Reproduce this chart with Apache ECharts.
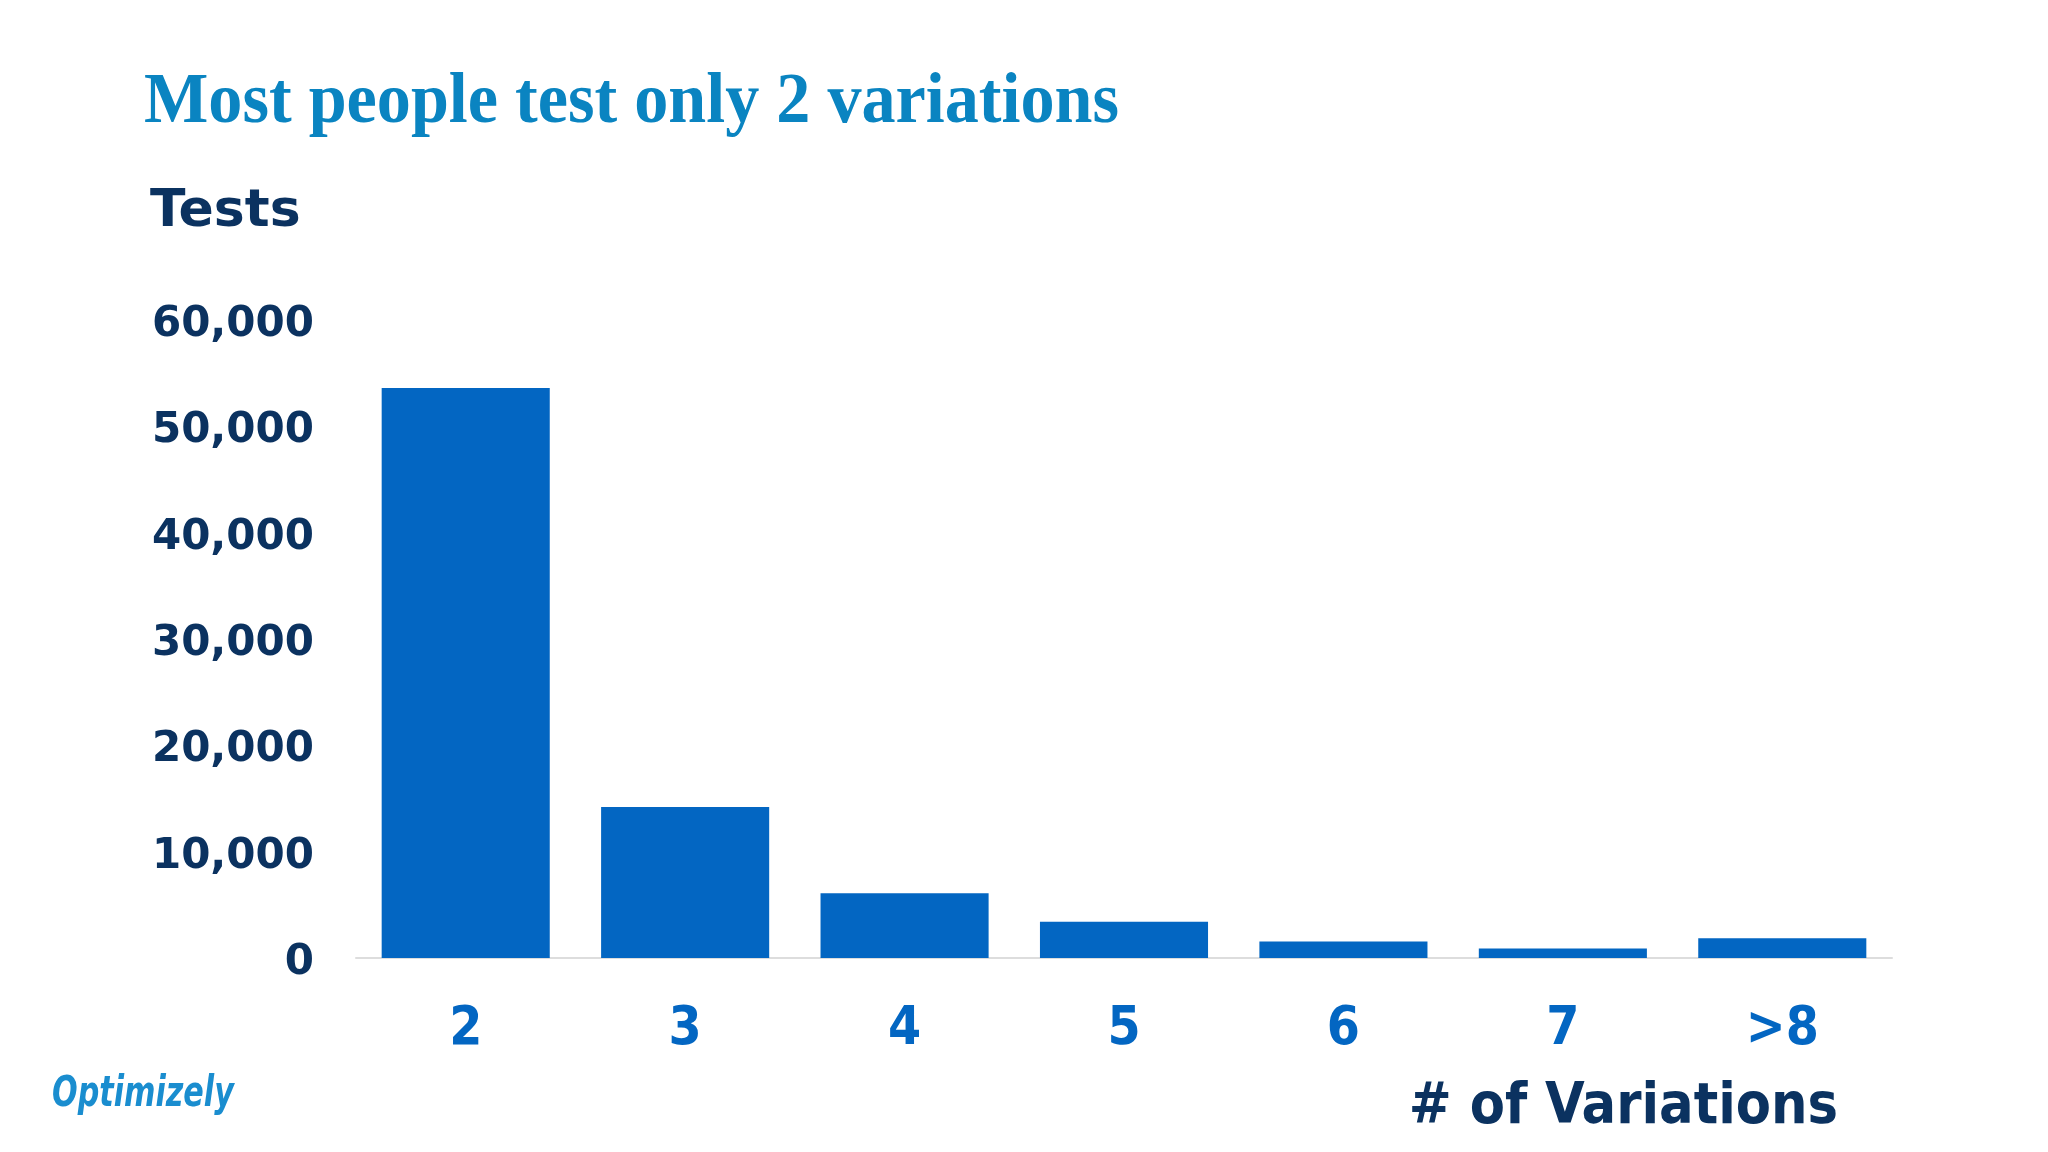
<!DOCTYPE html>
<html>
<head>
<meta charset="utf-8">
<script src="https://cdn.jsdelivr.net/npm/echarts@6/dist/echarts.min.js"></script>
<style>
  html, body { margin: 0; padding: 0; background: #ffffff; }
  #chart { width: 2048px; height: 1152px; }
</style>
</head>
<body>
<div id="chart"></div>
<script>
const categories = ['2', '3', '4', '5', '6', '7', '>8'];
const testCounts = [53600, 14200, 6100, 3400, 1550, 900, 1850];
const yTicks = [0, 10000, 20000, 30000, 40000, 50000, 60000];

const titleText = 'Most people test only 2 variations';
const yAxisTitle = 'Tests';
const xAxisTitle = '# of Variations';
const logoText = 'Optimizely';

const chart = echarts.init(document.getElementById('chart'), null, { renderer: 'canvas' });

const option = {
  backgroundColor: '#ffffff',
  animation: false,
  grid: { left: 356, top: 320, width: 1536, height: 638, containLabel: false },
  xAxis: {
    type: 'category',
    data: categories,
    axisLine: { show: true, lineStyle: { color: '#dddddd', width: 2 } },
    axisTick: { show: false },
    axisLabel: {
      margin: 46,
      color: '#0366c2',
      fontFamily: '"DejaVu Sans Condensed", "DejaVu Sans", sans-serif',
      fontWeight: 'bold',
      fontSize: 53
    },
    splitLine: { show: false }
  },
  yAxis: {
    type: 'value',
    min: yTicks[0],
    max: yTicks[yTicks.length - 1],
    interval: yTicks[1] - yTicks[0],
    axisLine: { show: false },
    axisTick: { show: false },
    splitLine: { show: false },
    axisLabel: {
      margin: 42,
      verticalAlign: 'top',
      lineHeight: 10,
      color: '#0b3260',
      fontFamily: '"DejaVu Sans", Verdana, sans-serif',
      fontWeight: 'bold',
      fontSize: 42,
      formatter: function (v) { return v.toLocaleString('en-US'); }
    }
  },
  series: [{
    type: 'bar',
    data: testCounts,
    barCategoryGap: '23.4%',
    itemStyle: { color: '#0366c2' }
  }],
  graphic: [
    {
      type: 'text',
      x: 144, y: 68,
      scaleX: 0.96,
      style: {
        text: titleText,
        font: 'bold 71px "Liberation Serif", "Times New Roman", serif',
        fill: '#0a84c1',
        verticalAlign: 'top'
      }
    },
    {
      type: 'text',
      x: 150, y: 186,
      style: {
        text: yAxisTitle,
        font: 'bold 52px "DejaVu Sans", sans-serif',
        fill: '#0b3260',
        verticalAlign: 'top'
      }
    },
    {
      type: 'text',
      x: 1838, y: 1080,
      style: {
        text: xAxisTitle,
        font: 'bold 57px "DejaVu Sans Condensed", "DejaVu Sans", sans-serif',
        fill: '#0b3260',
        align: 'right',
        verticalAlign: 'top'
      }
    },
    {
      type: 'text',
      x: 52, y: 1073,
      scaleX: 0.78,
      style: {
        text: logoText,
        font: 'italic bold 43px "DejaVu Sans Condensed", "DejaVu Sans", sans-serif',
        fill: '#1a8dcf',
        verticalAlign: 'top'
      }
    }
  ]
};

chart.setOption(option);
</script>
</body>
</html>
